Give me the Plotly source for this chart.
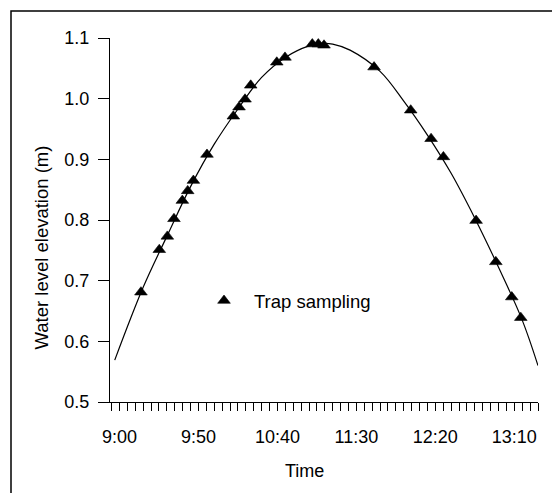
import plotly.graph_objects as go

# ---- data ----
DAY = "2000-01-01 "
sample_times = ["09:13:36", "09:25:12", "09:30:18", "09:34:30", "09:39:48", "09:43:12",
                "09:46:48", "09:55:24", "10:12:06", "10:15:42", "10:19:30", "10:23:06",
                "10:39:36", "10:44:48", "11:02:06", "11:05:54", "11:09:30", "11:41:12",
                "12:04:24", "12:17:18", "12:25:06", "12:45:48", "12:58:18", "13:08:24",
                "13:14:06"]
sample_levels = [0.681, 0.751, 0.773, 0.802, 0.832, 0.848, 0.865, 0.908, 0.971, 0.986,
                 0.999, 1.022, 1.060, 1.068, 1.090, 1.090, 1.088, 1.052, 0.981, 0.934,
                 0.904, 0.799, 0.731, 0.673, 0.639]

curve_times = ["08:57", "09:15", "09:30", "09:45", "10:00", "10:15", "10:30", "10:45",
               "11:00", "11:08", "11:15", "11:26", "11:45", "12:00", "12:15", "12:30",
               "12:45", "13:00", "13:15", "13:25"]
curve_levels = [0.569, 0.689, 0.773, 0.855, 0.925, 0.983, 1.035, 1.068, 1.087, 1.091,
                1.090, 1.080, 1.045, 0.996, 0.940, 0.877, 0.803, 0.722, 0.635, 0.560]

x_tick_labels = ["9:00", "9:50", "10:40", "11:30", "12:20", "13:10"]
y_ticks = [0.5, 0.6, 0.7, 0.8, 0.9, 1.0, 1.1]


def ts(t):
    h, m = t.split(":")[0], t.split(":")[1:]
    return DAY + f"{int(h):02d}:" + ":".join(m)


FONT = "Liberation Sans, Arial, sans-serif"

fig = go.Figure()
fig.add_trace(go.Scatter(
    x=[ts(t) for t in curve_times], y=curve_levels, mode="lines",
    line=dict(color="black", width=1.2, shape="spline", smoothing=1.0),
    showlegend=False, hoverinfo="skip"))
fig.add_trace(go.Scatter(
    x=[ts(t) for t in sample_times], y=sample_levels, mode="markers",
    marker=dict(symbol="triangle-up", size=11, color="black",
                line=dict(color="black", width=0.6)),
    name="Trap sampling", showlegend=True))

W, H = 552, 493
L, R, T, B = 110, 14, 38, 91
pw, ph = W - L - R, H - T - B


def px_x(px):
    return (px - L) / pw


def px_y(py):
    return (H - B - py) / ph


fig.update_layout(
    width=W, height=H, autosize=False,
    margin=dict(l=L, r=R, t=T, b=B, pad=0),
    paper_bgcolor="white", plot_bgcolor="white",
    font=dict(family=FONT, size=18, color="black"),
    xaxis=dict(
        type="date",
        range=[ts("08:54"), ts("13:25")],
        tickmode="array",
        tickvals=[ts(t) for t in x_tick_labels],
        ticktext=x_tick_labels,
        ticks="outside", ticklen=8, tickwidth=1, tickcolor="black",
        ticklabelstandoff=10,
        minor=dict(ticks="outside", ticklen=8, tickwidth=1, tickcolor="black",
                   dtick=5 * 60 * 1000, tick0=ts("08:55"), showgrid=False),
        showline=True, linecolor="black", linewidth=1,
        showgrid=False, zeroline=False,
        tickfont=dict(family=FONT, size=18, color="black"),
    ),
    yaxis=dict(
        range=[0.5, 1.1],
        tickmode="array", tickvals=y_ticks,
        ticktext=[f"{v:.1f}" for v in y_ticks],
        ticks="outside", ticklen=11, tickwidth=1, tickcolor="black",
        ticklabelstandoff=5,
        showline=True, linecolor="black", linewidth=1,
        showgrid=False, zeroline=False,
        tickfont=dict(family=FONT, size=18, color="black"),
    ),
    legend=dict(x=px_x(194), y=px_y(301), xanchor="left", yanchor="middle",
                bgcolor="rgba(0,0,0,0)", borderwidth=0,
                font=dict(family=FONT, size=18.5, color="black"),
                itemwidth=50),
    annotations=[
        dict(text="Water level elevation (m)", xref="paper", yref="paper",
             x=px_x(41), y=px_y(247.5), xanchor="center", yanchor="middle",
             textangle=-90, showarrow=False,
             font=dict(family=FONT, size=18.5, color="black")),
        dict(text="Time", xref="paper", yref="paper",
             x=px_x(304), y=px_y(471), xanchor="center", yanchor="middle",
             showarrow=False, font=dict(family=FONT, size=18, color="black")),
    ],
    shapes=[
        dict(type="rect", xref="paper", yref="paper",
             x0=px_x(11), x1=px_x(600), y0=px_y(560), y1=px_y(11),
             line=dict(color="black", width=1.5), fillcolor="rgba(0,0,0,0)",
             layer="above"),
    ],
)

fig.write_html("out.html")
